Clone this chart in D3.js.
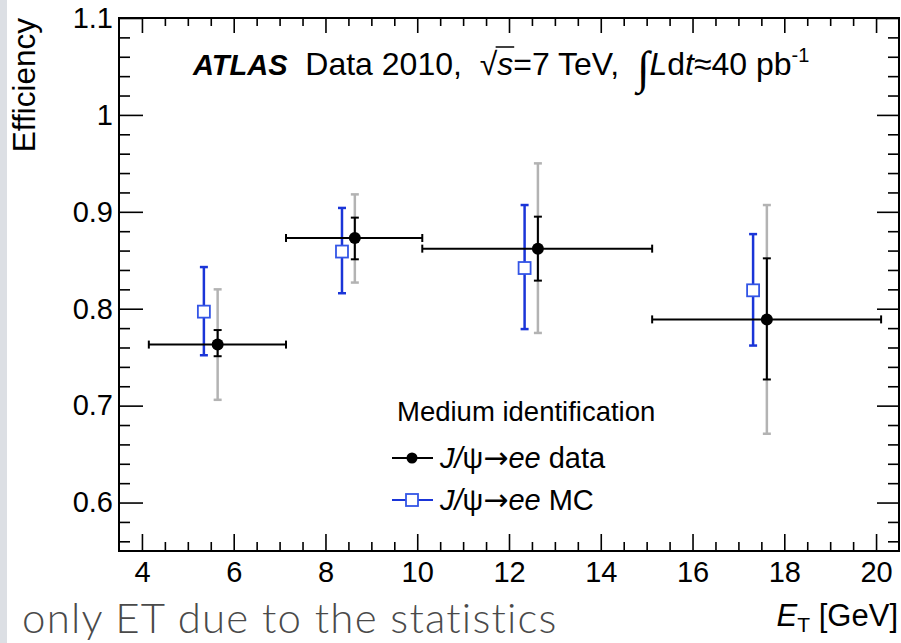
<!DOCTYPE html>
<html>
<head>
<meta charset="utf-8">
<script src="https://cdn.jsdelivr.net/npm/d3@7"></script>
<style>
  body { margin: 0; background: #fff; }
  text { font-family: "Liberation Sans", Arial, Helvetica, sans-serif; fill: #000; }
</style>
</head>
<body>
<div id="chart"></div>
<script>
// bins in E_T (data points sit at the mean E_T of each bin)
const etCenter = [5.65, 8.64, 12.63, 17.62];
const etLow    = [4.15, 7.14, 10.11, 15.12];
const etHigh   = [7.14, 10.11, 15.12, 20.11];

// J/psi -> ee data: efficiency, stat error band, total error band
const effData  = [0.763, 0.873, 0.862, 0.789];
const statLow  = [0.751, 0.851, 0.829, 0.727];
const statHigh = [0.778, 0.894, 0.895, 0.852];
const totLow   = [0.706, 0.827, 0.775, 0.671];
const totHigh  = [0.820, 0.918, 0.950, 0.907];

// J/psi -> ee MC (drawn slightly shifted left)
const etMC   = [5.35, 8.36, 12.34, 17.32];
const effMC  = [0.797, 0.859, 0.842, 0.819];
const mcLow  = [0.752, 0.816, 0.779, 0.762];
const mcHigh = [0.843, 0.904, 0.907, 0.877];

const xTicks = [4, 6, 8, 10, 12, 14, 16, 18, 20];
const yTicks = [0.6, 0.7, 0.8, 0.9, 1.0, 1.1];
const yTickLabels = ["0.6", "0.7", "0.8", "0.9", "1", "1.1"];

const W = 901, H = 643;
const blue = "#1a35d8", gray = "#b3b3b3";

const svg = d3.select("#chart").append("svg")
  .attr("width", W).attr("height", H);

// slide edge strip
svg.append("rect").attr("x", 0).attr("y", 0).attr("width", 7).attr("height", H)
  .attr("fill", "#dcdfe4");

const x = d3.scaleLinear().domain([3.5, 20.5]).range([119, 899]);
const y = d3.scaleLinear().domain([0.55, 1.1]).range([551, 18]);

const xMinor = d3.range(4, 20.01, 0.5).filter(v => v % 2 !== 0);
const yMinor = d3.range(0.56, 1.09, 0.02).filter(v => Math.abs(v * 10 - Math.round(v * 10)) > 0.01);

function axis(gen, scale, vals, size, transform, labels, pad) {
  const g = svg.append("g").attr("transform", transform)
    .call(gen(scale).tickValues(vals).tickSize(size).tickPadding(pad || 0)
      .tickFormat(labels ? (d, i) => labels[i] : ""));
  g.select(".domain").remove();
  g.selectAll(".tick line").attr("stroke", "#000").attr("stroke-width", 1.6);
  g.selectAll(".tick text").attr("font-size", 29).attr("fill", "#000")
    .style("font-family", "'Liberation Sans', Arial, sans-serif");
  return g;
}

// bottom / top
axis(d3.axisBottom, x, xTicks, -17, "translate(0,551)", xTicks.map(String), 10);
axis(d3.axisBottom, x, xMinor, -9, "translate(0,551)");
axis(d3.axisTop, x, xTicks, -15, "translate(0,18)");
axis(d3.axisTop, x, xMinor, -8, "translate(0,18)");
// left / right
axis(d3.axisLeft, y, yTicks, -24, "translate(119,0)", yTickLabels, 6);
axis(d3.axisLeft, y, yMinor, -11, "translate(119,0)");
axis(d3.axisRight, y, yTicks, -22, "translate(899,0)");
axis(d3.axisRight, y, yMinor, -11, "translate(899,0)");

// frame
svg.append("rect").attr("x", 119).attr("y", 18).attr("width", 780).attr("height", 533)
  .attr("fill", "none").attr("stroke", "#000").attr("stroke-width", 2);

const cap = 4;
function vbar(g, xv, lo, hi, color, w) {
  g.append("line").attr("x1", x(xv)).attr("x2", x(xv)).attr("y1", y(lo)).attr("y2", y(hi))
    .attr("stroke", color).attr("stroke-width", w);
  [lo, hi].forEach(v => g.append("line")
    .attr("x1", x(xv) - cap).attr("x2", x(xv) + cap).attr("y1", y(v)).attr("y2", y(v))
    .attr("stroke", color).attr("stroke-width", w));
}

const marks = svg.append("g");
// total errors (gray) behind
etCenter.forEach((e, i) => vbar(marks, e, totLow[i], totHigh[i], gray, 2.5));
// MC
etMC.forEach((e, i) => vbar(marks, e, mcLow[i], mcHigh[i], blue, 2.5));
marks.selectAll(".mc").data(effMC).join("rect").attr("class", "mc")
  .attr("x", (d, i) => x(etMC[i]) - 6).attr("y", d => y(d) - 6)
  .attr("width", 12).attr("height", 12)
  .attr("fill", "#fff").attr("stroke", "#3355e6").attr("stroke-width", 1.8);
// data stat errors
etCenter.forEach((e, i) => {
  vbar(marks, e, statLow[i], statHigh[i], "#000", 2);
  const yy = y(effData[i]);
  marks.append("line").attr("x1", x(etLow[i])).attr("x2", x(etHigh[i]))
    .attr("y1", yy).attr("y2", yy).attr("stroke", "#000").attr("stroke-width", 2);
  [etLow[i], etHigh[i]].forEach(v => marks.append("line")
    .attr("x1", x(v)).attr("x2", x(v)).attr("y1", yy - cap).attr("y2", yy + cap)
    .attr("stroke", "#000").attr("stroke-width", 2));
});
marks.selectAll(".dat").data(effData).join("circle").attr("class", "dat")
  .attr("cx", (d, i) => x(etCenter[i])).attr("cy", d => y(d)).attr("r", 6).attr("fill", "#000");

// title line
const title = svg.append("text").attr("x", 193).attr("y", 75).attr("font-size", 32);
title.append("tspan").attr("font-weight", "bold").attr("font-style", "italic")
  .attr("font-size", 29).text("ATLAS");
title.append("tspan").text("\u00a0 Data 2010,\u00a0\u00a0");
title.append("tspan").text("\u221a");
title.append("tspan").attr("font-style", "italic").text("s");
title.append("tspan").text("=7 TeV,\u00a0\u00a0");
title.append("tspan").attr("font-size", 46).attr("dy", 8)
  .style("font-family", "'DejaVu Sans'").attr("font-weight", 200).text("\u222b");
title.append("tspan").attr("dy", -8).attr("font-style", "italic").text("L");
title.append("tspan").text("d");
title.append("tspan").attr("font-style", "italic").text("t");
title.append("tspan").text("\u224840 pb");
title.append("tspan").attr("font-size", 20).attr("dy", -13).text("-1");
// overline over the s under the root
{
  const full = title.text();
  const si = full.indexOf("\u221as") + 1;
  const n = title.node();
  const s1 = n.getEndPositionOfChar(si).x;
  const r0 = n.getStartPositionOfChar(si - 1).x;
  svg.append("line").attr("x1", r0 + 16).attr("x2", s1 + 1).attr("y1", 47).attr("y2", 47)
    .attr("stroke", "#000").attr("stroke-width", 1.5);
}

// legend
svg.append("text").attr("x", 397).attr("y", 421).attr("font-size", 27.5).text("Medium identification");
const legY = [458, 500];
const legTxt = ["data", "MC"];
legY.forEach((ly, i) => {
  const c = i === 0 ? "#000" : blue;
  svg.append("line").attr("x1", 392).attr("x2", 433).attr("y1", ly).attr("y2", ly)
    .attr("stroke", c).attr("stroke-width", 2);
  if (i === 0) svg.append("circle").attr("cx", 412).attr("cy", ly).attr("r", 5.5).attr("fill", "#000");
  else svg.append("rect").attr("x", 406).attr("y", ly - 6).attr("width", 12).attr("height", 12)
    .attr("fill", "#fff").attr("stroke", "#3355e6").attr("stroke-width", 1.8);
  const t = svg.append("text").attr("x", 440).attr("y", ly + 10).attr("font-size", 29);
  t.append("tspan").attr("font-style", "italic").text("J/");
  t.append("tspan").text("\u03c8");
  t.append("tspan").style("font-family", "'DejaVu Sans'").attr("font-size", 30).text("\u2192");
  t.append("tspan").attr("font-style", "italic").text("ee");
  t.append("tspan").text(" " + legTxt[i]);
});

// axis titles
svg.append("text").attr("transform", "translate(35,18) rotate(-90)")
  .attr("text-anchor", "end").attr("font-size", 31.5).text("Efficiency");
const xt = svg.append("text").attr("x", 898).attr("y", 626).attr("text-anchor", "end").attr("font-size", 31);
xt.append("tspan").attr("font-style", "italic").text("E");
xt.append("tspan").attr("font-size", 21).attr("dy", 6).text("T");
xt.append("tspan").attr("dy", -6).text(" [GeV]");

// slide caption
svg.append("text").attr("x", 22).attr("y", 633).attr("font-size", 42)
  .style("font-family", "Lato, 'Open Sans', sans-serif").attr("font-weight", 300)
  .attr("letter-spacing", 1.2)
  .attr("fill", "#4a4a4a").style("fill", "#4a4a4a").text("only ET due to the statistics");
</script>
</body>
</html>
